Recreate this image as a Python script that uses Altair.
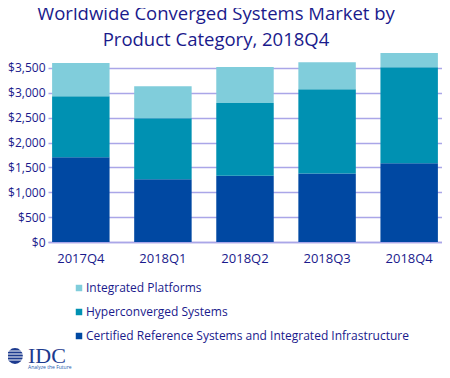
import altair as alt
import pandas as pd

quarters = ["2017Q4", "2018Q1", "2018Q2", "2018Q3", "2018Q4"]
categories = [
    "Integrated Platforms",
    "Hyperconverged Systems",
    "Certified Reference Systems and Integrated Infrastructure",
]
crs = [1706, 1264, 1332, 1379, 1585]
hci = [1224, 1225, 1465, 1691, 1927]
ip = [670, 642, 723, 542, 288]
colors = ["#80CDDB", "#0091B2", "#0048A2"]

NAVY = "#1a1a8c"
GRID = "#aaa6e8"
FONT = "Open Sans"

rows = []
for i, q in enumerate(quarters):
    rows.append({"q": q, "cat": categories[2], "v": crs[i], "ord": 0})
    rows.append({"q": q, "cat": categories[1], "v": hci[i], "ord": 1})
    rows.append({"q": q, "cat": categories[0], "v": ip[i], "ord": 2})
df = pd.DataFrame(rows)

bars = alt.Chart(df).mark_bar().encode(
    x=alt.X("q:N", sort=quarters,
            scale=alt.Scale(paddingInner=0.3, paddingOuter=0.05),
            axis=alt.Axis(title=None, labelAngle=0, labelFontSize=13, labelFont=FONT,
                          labelColor=NAVY, labelPadding=10, ticks=False,
                          domainColor=GRID, domainWidth=1.5)),
    y=alt.Y("v:Q", stack="zero",
            scale=alt.Scale(domain=[0, 3800], nice=False),
            axis=alt.Axis(title=None, values=[0, 500, 1000, 1500, 2000, 2500, 3000, 3500],
                          format="$,.0f", labelFontSize=12, labelFont=FONT, labelColor=NAVY,
                          labelPadding=3, ticks=False, domain=False,
                          gridColor=GRID, gridWidth=1.5)),
    color=alt.Color("cat:N", sort=categories,
                    scale=alt.Scale(domain=categories, range=colors),
                    legend=alt.Legend(title=None, orient="none", legendX=25, legendY=229,
                                      direction="vertical", symbolType="square",
                                      symbolSize=42, symbolStrokeWidth=0,
                                      labelFontSize=12, labelFont=FONT, labelColor=NAVY,
                                      labelLimit=0, rowPadding=12, labelOffset=1)),
    order=alt.Order("ord:Q"),
)

logo_df = pd.DataFrame({"a": [0]})
globe = alt.Chart(logo_df).mark_circle(size=250, color="#1c3a8e", opacity=1).encode(
    x=alt.value(-33), y=alt.value(303)
)
stripes = []
for dy in [-5, -2, 1, 4]:
    stripes.append(
        alt.Chart(logo_df).mark_rule(color="white", strokeWidth=1).encode(
            x=alt.value(-43), x2=alt.value(-23), y=alt.value(303 + dy)
        )
    )
idc = alt.Chart(logo_df).mark_text(
    text="IDC", font="Liberation Serif", fontSize=22, color="#1c3a8e",
    align="left", baseline="alphabetic"
).encode(x=alt.value(-20), y=alt.value(310))
tag = alt.Chart(logo_df).mark_text(
    text="Analyze the Future", font=FONT, fontSize=5, color="#1c5aae",
    align="left", baseline="alphabetic"
).encode(x=alt.value(-20), y=alt.value(316))

chart = alt.layer(bars, globe, *stripes, idc, tag).properties(
    width=394,
    height=189,
    autosize=alt.AutoSizeParams(type="none"),
    padding={"left": 40, "top": 45, "right": 0, "bottom": 128},
    title=alt.Title(
        ["Worldwide Converged Systems Market by", "Product Category, 2018Q4"],
        font=FONT, fontSize=18.5, fontWeight="normal", color=NAVY,
        anchor="middle", frame="group", lineHeight=26, offset=4, dx=-29,
    ),
).configure_view(stroke=None)

chart.save("out.html", embed_options={"renderer": "svg", "actions": False})
